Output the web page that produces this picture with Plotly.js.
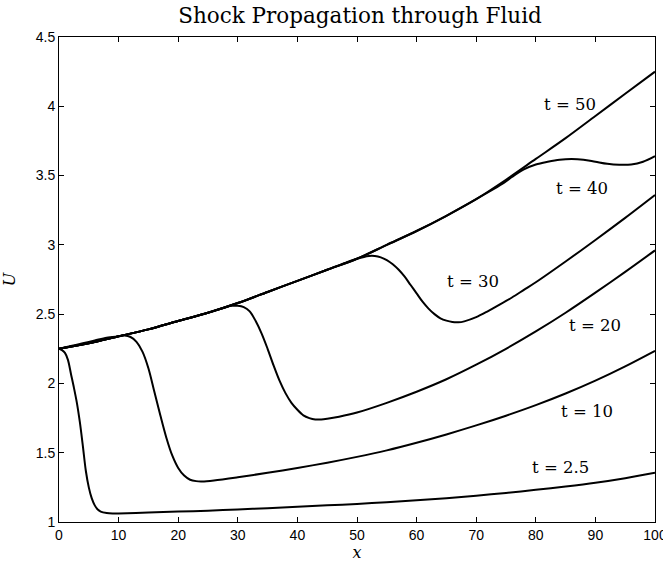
<!DOCTYPE html>
<html>
<head>
<meta charset="utf-8">
<script src="https://cdn.plot.ly/plotly-3.0.1.min.js"></script>
<style>body{margin:0;padding:0;background:#fff;}</style>
</head>
<body>
<div id="chart" style="width:663px;height:563px;"></div>
<script>
// t = 2.5
var x_t2_5 = [0,0.5,1,1.5,2,2.5,3,3.5,4,4.5,5,5.5,6,6.5,7,8,9,10,15,20,25,30,35,40,45,50,55,60,65,70,75,80,85,90,95,100];
var u_t2_5 = [2.25,2.24,2.22,2.17,2.07,1.97,1.86,1.72,1.55,1.37,1.25,1.17,1.12,1.09,1.075,1.065,1.062,1.062,1.068,1.075,1.082,1.09,1.10,1.11,1.12,1.13,1.143,1.157,1.172,1.19,1.21,1.232,1.256,1.283,1.316,1.355];
// t = 10
var x_t10 = [0,2,4,6,8,10,11,12,13,14,15,16,17,18,19,20,21,22,23,24,26,30,35,40,45,50,55,60,65,70,75,80,85,90,95,100];
var u_t10 = [2.25,2.27,2.29,2.31,2.33,2.34,2.345,2.335,2.30,2.23,2.11,1.94,1.77,1.61,1.48,1.39,1.335,1.305,1.295,1.293,1.30,1.323,1.355,1.39,1.428,1.47,1.517,1.572,1.632,1.697,1.767,1.843,1.927,2.02,2.123,2.235];
// t = 20
var x_t20 = [0,5,10,15,20,25,28,29,30,31,32,33,34,35,36,37,38,39,40,41,42,43,44,45,47,50,55,60,65,70,75,80,85,90,95,100];
var u_t20 = [2.25,2.29,2.34,2.39,2.45,2.51,2.55,2.56,2.56,2.55,2.52,2.45,2.36,2.25,2.13,2.02,1.93,1.86,1.81,1.77,1.75,1.74,1.74,1.745,1.76,1.79,1.86,1.94,2.03,2.135,2.25,2.375,2.51,2.655,2.805,2.96];
// t = 30
var x_t30 = [0,5,10,15,20,25,30,35,40,45,48,50,52,53,54,55,56,57,58,59,60,61,62,63,64,65,66,67,68,70,72,74,76,78,80,85,90,95,100];
var u_t30 = [2.25,2.29,2.34,2.39,2.45,2.51,2.58,2.66,2.74,2.82,2.87,2.90,2.92,2.92,2.91,2.89,2.86,2.82,2.77,2.71,2.65,2.59,2.54,2.50,2.47,2.453,2.443,2.441,2.448,2.478,2.522,2.57,2.62,2.675,2.73,2.88,3.035,3.195,3.36];
// t = 40
var x_t40 = [0,5,10,15,20,25,30,35,40,45,50,55,60,65,70,74,76,77,78,80,82,84,86,88,90,92,94,96,98,100];
var u_t40 = [2.25,2.29,2.34,2.39,2.45,2.51,2.58,2.66,2.74,2.82,2.90,3.00,3.10,3.21,3.33,3.43,3.49,3.52,3.545,3.58,3.60,3.615,3.62,3.615,3.60,3.585,3.578,3.58,3.60,3.64];
// t = 50
var x_t50 = [0,5,10,15,20,25,30,35,40,45,50,55,60,65,70,75,80,85,90,95,100];
var u_t50 = [2.25,2.29,2.34,2.39,2.45,2.51,2.58,2.66,2.74,2.82,2.90,3.00,3.10,3.21,3.33,3.47,3.62,3.77,3.93,4.09,4.25];

var labelText = ['t = 50','t = 40','t = 30','t = 20','t = 10','t = 2.5'];
var labelX = [85.7, 87.75, 69.46, 89.9, 88.6, 84.1];
var labelY = [4.016, 3.41, 2.732, 2.421, 1.801, 1.390];

var xTicks = [0,10,20,30,40,50,60,70,80,90,100];
var yTicks = [1,1.5,2,2.5,3,3.5,4,4.5];

var series = [[x_t2_5,u_t2_5],[x_t10,u_t10],[x_t20,u_t20],[x_t30,u_t30],[x_t40,u_t40],[x_t50,u_t50]];
var traces = series.map(function(s){
  return {x:s[0], y:s[1], type:'scatter', mode:'lines',
          line:{color:'#000', width:2, shape:'spline', smoothing:0.9},
          hoverinfo:'skip', showlegend:false, cliponaxis:true};
});

var annotations = labelText.map(function(t,i){
  return {x:labelX[i], y:labelY[i], xref:'x', yref:'y', text:t, showarrow:false,
          font:{family:'DejaVu Serif, serif', size:16.5, color:'#000'}};
});

var tickFont = {family:'Liberation Sans Narrow, Arial Narrow, Liberation Sans, Arial, sans-serif', size:14, color:'#000'};
var axisCommon = {showline:true, linecolor:'#000', linewidth:1, mirror:'ticks',
  ticks:'inside', ticklen:5, tickcolor:'#000', showgrid:false, zeroline:false,
  tickfont:tickFont, ticklabeloverflow:'allow'};

var layout = {
  width:663, height:563,
  margin:{l:59, r:8, t:37, b:41},
  paper_bgcolor:'#fff', plot_bgcolor:'#fff',
  title:{text:'Shock Propagation through Fluid', x:0.543, xanchor:'center', y:0.973, yanchor:'middle',
         font:{family:'DejaVu Serif, serif', size:21.5, color:'#000'}},
  xaxis:Object.assign({}, axisCommon, {range:[0,100], tickmode:'array', tickvals:xTicks,
         ticktext:xTicks.map(String),
         title:{text:'<i>x</i>', standoff:0, font:{family:'DejaVu Serif, serif', size:16, color:'#000'}}}),
  yaxis:Object.assign({}, axisCommon, {range:[1,4.5], tickmode:'array', tickvals:yTicks,
         ticktext:yTicks.map(String),
         title:{text:'<i>U</i>', standoff:16, font:{family:'DejaVu Serif, serif', size:16, color:'#000'}}}),
  annotations:annotations
};

Plotly.newPlot('chart', traces, layout, {displayModeBar:false, staticPlot:true});
</script>
</body>
</html>
